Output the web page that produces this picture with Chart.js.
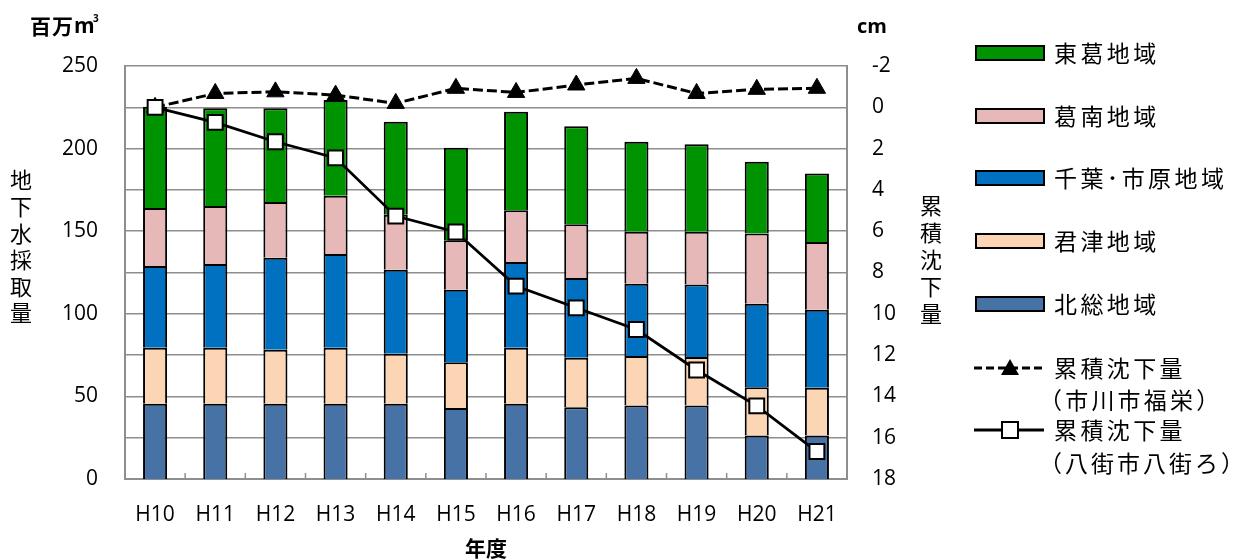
<!DOCTYPE html>
<html>
<head>
<meta charset="utf-8">
<script src="https://cdn.jsdelivr.net/npm/chart.js@4.4.1/dist/chart.umd.min.js"></script>
<style>
  html, body { margin: 0; padding: 0; background: #ffffff; }
  #wrap { width: 1237px; height: 560px; position: relative; }
</style>
</head>
<body>
<div id="wrap"><canvas id="c" width="1237" height="560"></canvas></div>
<script>
// ---- data ----
const years = ['H10','H11','H12','H13','H14','H15','H16','H17','H18','H19','H20','H21'];
const hokuso   = [45.5, 45.5, 45.5, 45.5, 45.5, 43.0, 45.5, 43.4, 44.5, 44.5, 26.3, 26.3];
const kimitsu  = [33.9, 33.9, 32.7, 33.9, 30.3, 27.7, 33.9, 30.0, 29.9, 29.3, 29.3, 28.9];
const chibaIchihara = [49.5, 50.7, 55.8, 56.8, 50.9, 43.9, 52.0, 48.3, 43.8, 44.0, 50.5, 47.3];
const katsunan = [35.2, 35.2, 33.7, 35.2, 33.2, 29.9, 31.3, 32.5, 31.4, 31.8, 42.5, 41.0];
const tokatsu  = [61.2, 59.1, 56.7, 58.0, 56.4, 56.0, 59.6, 59.4, 54.5, 53.1, 43.4, 41.5];
const ichikawaFukuei = [0, -0.67, -0.75, -0.59, -0.19, -0.92, -0.72, -1.08, -1.40, -0.67, -0.87, -0.92];
const yachimataYachimataro = [0, 0.73, 1.67, 2.45, 5.27, 6.04, 8.66, 9.71, 10.76, 12.72, 14.46, 16.67];
const leftTicks = [0, 50, 100, 150, 200, 250];
const rightTicks = [-2, 0, 2, 4, 6, 8, 10, 12, 14, 16, 18];

const names = {
  hokuso: '北総地域', kimitsu: '君津地域', chiba: '千葉･市原地域',
  katsunan: '葛南地域', tokatsu: '東葛地域',
  line1a: '累積沈下量', line1b: '（市川市福栄）',
  line2a: '累積沈下量', line2b: '（八街市八街ろ）'
};

const GRAY = '#8e8e8e';
const NUM_FONT = '"Open Sans", sans-serif';
const JP_FONT = '"Noto Sans CJK JP", "Noto Sans CJK SC", sans-serif';

const colors = {
  hokuso: '#4672A6', kimitsu: '#FCD5B5', chiba: '#0070C0',
  katsunan: '#E6B9B8', tokatsu: '#009300'
};

function barDs(label, data, color) {
  return {
    type: 'bar', label, data, backgroundColor: color, borderColor: '#000',
    borderWidth: 2, yAxisID: 'y', stack: 's', order: 5,
    categoryPercentage: 0.4, barPercentage: 1.0
  };
}

function drawSpaced(ctx, text, x, y, extra) {
  let cx = x;
  for (const ch of text) {
    ctx.fillText(ch, cx, y);
    cx += ctx.measureText(ch).width + extra;
  }
}
function drawVertical(ctx, text, cx, y0, step) {
  let i = 0;
  ctx.textAlign = 'center';
  for (const ch of text) {
    ctx.fillText(ch, cx, y0 + i * step);
    i++;
  }
}

const decorPlugin = {
  id: 'decor',
  afterDraw(chart) {
    const ctx = chart.ctx;
    const ca = chart.chartArea;
    const xs = chart.scales.x;
    ctx.save();
    // inward category tick marks
    ctx.strokeStyle = GRAY;
    ctx.lineWidth = 1.5;
    for (let i = 1; i < years.length; i++) {
      const bx = (xs.getPixelForValue(i - 1) + xs.getPixelForValue(i)) / 2;
      ctx.beginPath();
      ctx.moveTo(bx, ca.bottom);
      ctx.lineTo(bx, ca.bottom - 6);
      ctx.stroke();
    }
    ctx.fillStyle = '#000';
    ctx.textBaseline = 'middle';
    // unit labels
    ctx.textAlign = 'left';
    ctx.font = 'bold 21px ' + JP_FONT;
    drawSpaced(ctx, '百万', 30, 26, 1);
    ctx.font = 'bold 21px ' + NUM_FONT;
    ctx.fillText('m', 74, 27);
    ctx.font = 'bold 10px ' + NUM_FONT;
    ctx.fillText('3', 93, 19);
    ctx.font = 'bold 20px ' + NUM_FONT;
    ctx.fillText('cm', 857, 27);
    // axis titles
    ctx.font = '22px ' + JP_FONT;
    drawVertical(ctx, '地下水採取量', 21, 180, 26.6);
    drawVertical(ctx, '累積沈下量', 931, 206, 26.8);
    ctx.font = 'bold 21px ' + JP_FONT;
    ctx.textAlign = 'center';
    ctx.fillText('年度', (ca.left + ca.right) / 2, 548);

    // legend
    const ds = chart.data.datasets;
    const order = [4, 3, 2, 1, 0];
    const rowsY = [53, 116, 178, 241, 304];
    ctx.textAlign = 'left';
    order.forEach((di, k) => {
      const d = ds[di];
      const y = rowsY[k];
      ctx.fillStyle = d.backgroundColor;
      ctx.fillRect(976, y - 7, 68, 14);
      ctx.strokeStyle = '#000';
      ctx.lineWidth = 2;
      ctx.strokeRect(976, y - 7, 68, 14);
      ctx.fillStyle = '#000';
      ctx.font = '23px ' + JP_FONT;
      drawSpaced(ctx, d.label, 1054, y, 3.4);
    });
    // line legend: dashed triangle
    ctx.strokeStyle = '#000';
    ctx.lineWidth = 3;
    ctx.setLineDash([8, 4]);
    ctx.beginPath(); ctx.moveTo(974, 368); ctx.lineTo(1044, 368); ctx.stroke();
    ctx.setLineDash([]);
    ctx.fillStyle = '#000';
    ctx.beginPath();
    ctx.moveTo(1010, 359); ctx.lineTo(1019, 375); ctx.lineTo(1001, 375); ctx.closePath();
    ctx.fill();
    // solid square
    ctx.beginPath(); ctx.moveTo(974, 430); ctx.lineTo(1044, 430); ctx.stroke();
    ctx.fillStyle = '#fff';
    ctx.fillRect(1002, 422, 16, 16);
    ctx.lineWidth = 2;
    ctx.strokeRect(1002, 422, 16, 16);
    ctx.fillStyle = '#000';
    ctx.font = '23px ' + JP_FONT;
    drawSpaced(ctx, ds[5].label, 1054, 368, 3.4);
    drawSpaced(ctx, names.line1b, 1039, 400, 3.2);
    drawSpaced(ctx, ds[6].label, 1054, 430, 3.4);
    drawSpaced(ctx, names.line2b, 1039, 463, 3.0);
    ctx.restore();
  }
};

new Chart(document.getElementById('c'), {
  data: {
    labels: years,
    datasets: [
      barDs(names.hokuso, hokuso, colors.hokuso),
      barDs(names.kimitsu, kimitsu, colors.kimitsu),
      barDs(names.chiba, chibaIchihara, colors.chiba),
      barDs(names.katsunan, katsunan, colors.katsunan),
      barDs(names.tokatsu, tokatsu, colors.tokatsu),
      {
        type: 'line', label: names.line1a, data: ichikawaFukuei, yAxisID: 'y2',
        borderColor: '#000', borderWidth: 3, borderDash: [10, 4],
        pointStyle: 'triangle', pointRadius: 10, pointBackgroundColor: '#000',
        pointBorderColor: '#000', pointBorderWidth: 1, tension: 0, order: 2
      },
      {
        type: 'line', label: names.line2a, data: yachimataYachimataro, yAxisID: 'y2',
        borderColor: '#000', borderWidth: 2.75,
        pointStyle: 'rect', pointRadius: 10.5, pointBackgroundColor: '#fff',
        pointBorderColor: '#000', pointBorderWidth: 2, tension: 0, order: 1
      }
    ]
  },
  options: {
    responsive: false,
    animation: false,
    events: [],
    layout: { padding: { top: 66, left: 0, right: 0, bottom: 0 } },
    plugins: { legend: { display: false }, tooltip: { enabled: false } },
    scales: {
      x: {
        type: 'category', stacked: true, offset: true,
        grid: { display: false, drawTicks: false },
        border: { display: true, color: GRAY, width: 2 },
        ticks: { color: '#000', font: { family: NUM_FONT, size: 21 }, padding: 23, maxRotation: 0 },
        afterFit(s) { s.height = 81; }
      },
      y: {
        position: 'left', stacked: true, min: 0, max: 250,
        afterBuildTicks(s) { s.ticks = leftTicks.map(v => ({ value: v })); },
        grid: { display: false, drawTicks: false },
        border: { display: true, color: GRAY, width: 2 },
        ticks: { color: '#000', font: { family: NUM_FONT, size: 21 }, padding: 27 },
        afterFit(s) { s.width = 125; }
      },
      y2: {
        position: 'right', reverse: true, min: -2, max: 18,
        afterBuildTicks(s) { s.ticks = rightTicks.map(v => ({ value: v })); },
        grid: { display: true, color: GRAY, lineWidth: 1.5, drawTicks: false },
        border: { display: true, color: GRAY, width: 2 },
        ticks: { color: '#000', font: { family: NUM_FONT, size: 21 }, padding: 25 },
        afterFit(s) { s.width = 1237 - 847; }
      }
    }
  },
  plugins: [decorPlugin]
});
</script>
</body>
</html>
